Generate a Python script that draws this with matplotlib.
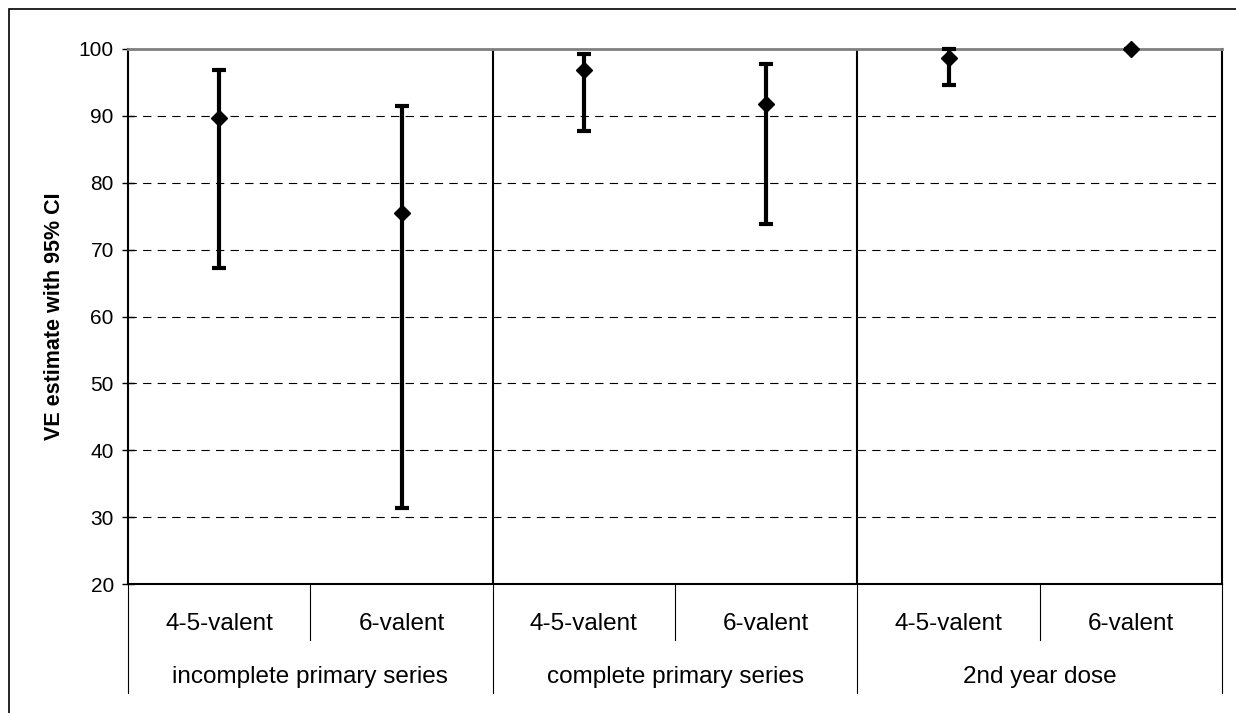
import numpy as np
import matplotlib
matplotlib.use('Agg')
import matplotlib.pyplot as plt
from matplotlib.patches import Rectangle
import matplotlib.transforms as mtransforms

plt.rcParams['font.family'] = ['Liberation Sans', 'DejaVu Sans']
plt.rcParams['lines.scale_dashes'] = False

# VE point estimates and 95% CI bounds
vaccines = ['4-5-valent', '6-valent', '4-5-valent', '6-valent', '4-5-valent', '6-valent']
groups = ['incomplete primary series', 'complete primary series', '2nd year dose']
ve = [89.7, 75.5, 96.8, 91.8, 98.6, 100.0]
ci_low = [67.3, 31.4, 87.7, 73.8, 94.6, 100.0]
ci_high = [96.9, 91.5, 99.3, 97.8, 100.0, 100.0]

fig = plt.figure(figsize=(12.36, 7.13), dpi=100)
ax = fig.add_axes([0.1036, 0.1809, 0.8851, 0.7504])

x = np.arange(len(ve))
ve = np.array(ve)
yerr = [ve - np.array(ci_low), np.array(ci_high) - ve]

ax.errorbar(x, ve, yerr=yerr, fmt='D', color='black', ms=8.5, lw=3,
            capsize=5, capthick=3, ecolor='black', clip_on=False, zorder=5)

ax.set_xlim(-0.5, 5.5)
ax.set_ylim(20, 100)
ax.set_yticks(np.arange(20, 101, 10))
ax.tick_params(axis='y', direction='inout', length=8.5, width=1, labelsize=15, pad=6)
ax.set_xticks([])

# dashed gridlines
for yv in range(30, 100, 10):
    ax.axhline(yv, color='black', lw=0.8, dashes=(6, 4.5), zorder=1)

# group separators inside the plot
for xv in [1.5, 3.5]:
    ax.axvline(xv, color='black', lw=1.5, zorder=2)

for s in ['left', 'bottom', 'right']:
    ax.spines[s].set_color('black')
    ax.spines[s].set_linewidth(1.5)
ax.spines['top'].set_color('#808080')
ax.spines['top'].set_linewidth(2)

ax.set_ylabel('VE estimate with 95% CI', fontsize=15.5, fontweight='bold', labelpad=10)

# two-level category axis below the plot
trans = mtransforms.blended_transform_factory(ax.transData, ax.transAxes)
for i, lab in enumerate(vaccines):
    ax.text(i, -0.074, lab, transform=trans, ha='center', va='center', fontsize=17.5)
for xv in [0.5, 2.5, 4.5]:
    ax.plot([xv, xv], [0, -0.1047], transform=trans, color='black', lw=0.8, clip_on=False)
for xv in [-0.5, 1.5, 3.5, 5.5]:
    ax.plot([xv, xv], [0, -0.2037], transform=trans, color='black', lw=0.8, clip_on=False)
for j, g in enumerate(groups):
    ax.text(2 * j + 0.5, -0.174, g, transform=trans, ha='center', va='center', fontsize=17.5)

# outer frame
fig.patches.append(Rectangle((9 / 1236, -0.1), 1.2, 1 - 9 / 713 + 0.1,
                             transform=fig.transFigure, fill=False,
                             edgecolor='black', lw=1.2))

fig.savefig('out.png', dpi=100, facecolor='white')
